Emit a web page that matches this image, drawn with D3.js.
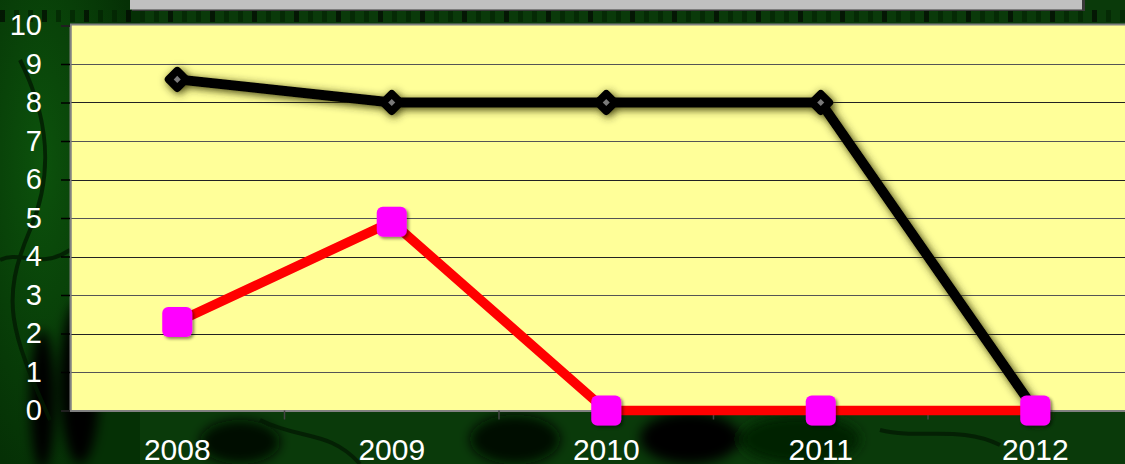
<!DOCTYPE html>
<html><head><meta charset="utf-8">
<script src="https://cdn.jsdelivr.net/npm/d3@7"></script>
<style>html,body{margin:0;padding:0;overflow:hidden;background:#063006}</style>
</head><body>
<svg id="c" width="1125" height="464"></svg>
<script>
const categories = ["2008","2009","2010","2011","2012"];
const seriesBlack = [8.6, 8, 8, 8, 0];
const seriesRed = [2.3, 4.9, 0, 0, 0];
const yTicks = [0,1,2,3,4,5,6,7,8,9,10];

const svg = d3.select("#c");
const W = 1125, H = 464;
const plot = {left:70, top:25.5, right:1142.5, bottom:410.5};

const defs = svg.append("defs");
const glow = defs.append("filter").attr("id","glow").attr("x","-20%").attr("y","-20%").attr("width","140%").attr("height","140%");
glow.append("feDropShadow").attr("dx",2).attr("dy",2).attr("stdDeviation",4).attr("flood-color","#2e2e00").attr("flood-opacity",0.95);
const sh = defs.append("filter").attr("id","sh").attr("x","-30%").attr("y","-30%").attr("width","160%").attr("height","160%");
sh.append("feDropShadow").attr("dx",2).attr("dy",2).attr("stdDeviation",1.5).attr("flood-color","#000").attr("flood-opacity",0.45);
const bgGrad = defs.append("radialGradient").attr("id","bgl").attr("cx","0.3").attr("cy","0.35").attr("r","0.7");
bgGrad.append("stop").attr("offset","0").attr("stop-color","#0c520c");
bgGrad.append("stop").attr("offset","1").attr("stop-color","#053005");
const blur = defs.append("filter").attr("id","blur").attr("x","-20%").attr("y","-20%").attr("width","140%").attr("height","140%");
blur.append("feGaussianBlur").attr("stdDeviation",6);

// background
svg.append("rect").attr("width",W).attr("height",H).attr("fill","#0a3a0a");
svg.append("rect").attr("x",0).attr("y",0).attr("width",140).attr("height",H).attr("fill","url(#bgl)");
const bg = svg.append("g").attr("filter","url(#blur)");
[[60,300,40,164,"#000"],[200,420,80,44,"#010"],[470,415,90,49,"#010"],
 [640,412,100,52,"#000"],[740,415,120,49,"#020"],[30,330,25,140,"#000"]].forEach(d=>{
  bg.append("ellipse").attr("cx",d[0]+d[2]/2).attr("cy",d[1]+d[3]/2).attr("rx",d[2]/2).attr("ry",d[3]/2).attr("fill",d[4]);
});
// stripes in top band
const stripes = d3.range(0, W, 14);
svg.append("g").selectAll("rect").data(stripes).enter().append("rect")
  .attr("x",d=>d).attr("y",10).attr("width",5).attr("height",12)
  .attr("fill",(d,i)=> i%3===0 ? "#000" : "#021f02").attr("opacity",0.6);
// curvy dark lines on left
const cg = svg.append("g").attr("stroke","#021a02").attr("stroke-width",4).attr("fill","none").attr("opacity",0.8);
cg.append("path").attr("d","M20,60 C40,100 60,160 30,230 S10,330 50,420");
cg.append("path").attr("d","M0,260 C20,250 40,270 70,250");
cg.append("path").attr("d","M260,420 C300,440 330,430 360,464");
cg.append("path").attr("d","M880,430 C920,440 960,425 1000,445");

// title box (cut off)
svg.append("rect").attr("x",132).attr("y",-10).attr("width",953).attr("height",21).attr("fill","#3a3a3a");
svg.append("rect").attr("x",130).attr("y",-10).attr("width",952).attr("height",19.5).attr("fill","#c0c0c0");

// scales
const x = d3.scaleBand().domain(categories).range([plot.left, plot.right]);
const y = d3.scaleLinear().domain([0,10]).range([plot.bottom, plot.top]);
const cx = d => x(d) + x.bandwidth()/2;

// plot area
svg.append("rect").attr("x",plot.left).attr("y",plot.top-2).attr("width",plot.right-plot.left).attr("height",plot.bottom-plot.top+2).attr("fill","#808080");
svg.append("rect").attr("x",plot.left+1.5).attr("y",plot.top).attr("width",plot.right-plot.left).attr("height",plot.bottom-plot.top).attr("fill","#ffff99");

// gridlines
svg.append("g").selectAll("line").data(yTicks.filter(t=>t>0 && t<10)).enter().append("line")
  .attr("x1",plot.left).attr("x2",plot.right).attr("y1",d=>Math.round(y(d))+0.5).attr("y2",d=>Math.round(y(d))+0.5)
  .attr("stroke",(d,i)=> i%2 ? "#222" : "#555").attr("stroke-width",1.2);

// y axis
const yAxis = d3.axisLeft(y).tickValues(yTicks).tickSize(9).tickPadding(18).tickFormat(d3.format("d"));
const ya = svg.append("g").attr("transform",`translate(${plot.left},0)`).call(yAxis);
ya.select(".domain").attr("stroke","#808080").attr("stroke-width",2);
ya.selectAll(".tick line").attr("stroke","#000").attr("stroke-width",1.5);
ya.selectAll(".tick text").attr("fill","#fff").attr("font-family","Liberation Sans, Arial, sans-serif").attr("font-size",29).attr("dx",-1);

// x axis
const xAxis = d3.axisBottom(x).tickSize(0).tickPadding(32);
const xa = svg.append("g").attr("transform",`translate(0,${plot.bottom})`).call(xAxis);
xa.select(".domain").attr("stroke","#808080").attr("stroke-width",2);
xa.selectAll(".tick text").attr("fill","#fff").attr("font-family","Liberation Sans, Arial, sans-serif").attr("font-size",30).attr("dy","0.71em").attr("y",28);
// category separator ticks
svg.append("g").selectAll("line").data(categories.slice(1)).enter().append("line")
  .attr("x1",d=>x(d)).attr("x2",d=>x(d)).attr("y1",plot.bottom).attr("y2",plot.bottom+9)
  .attr("stroke","#444").attr("stroke-width",1.5);

// black series
const line = d3.line().x((d,i)=>cx(categories[i])).y(d=>y(d));
const gB = svg.append("g").attr("filter","url(#glow)");
gB.append("path").datum(seriesBlack).attr("d",line).attr("fill","none").attr("stroke","#000").attr("stroke-width",10).attr("stroke-linejoin","round");
gB.selectAll("rect").data(seriesBlack).enter().append("rect")
  .attr("x",-10).attr("y",-10).attr("width",20).attr("height",20).attr("rx",4)
  .attr("transform",(d,i)=>`translate(${cx(categories[i])},${y(d)}) rotate(45)`).attr("fill","#000");
svg.append("g").selectAll("rect").data(seriesBlack).enter().append("rect")
  .attr("x",-2.5).attr("y",-2.5).attr("width",5).attr("height",5)
  .attr("transform",(d,i)=>`translate(${cx(categories[i])},${y(d)}) rotate(45)`).attr("fill","#7a7a7a");

// red series
svg.append("path").datum(seriesRed).attr("d",line).attr("fill","none").attr("stroke","#ff0000").attr("stroke-width",9.5).attr("stroke-linejoin","round");
svg.append("g").attr("filter","url(#sh)").selectAll("rect").data(seriesRed).enter().append("rect")
  .attr("width",30).attr("height",30).attr("rx",6)
  .attr("transform",(d,i)=>`translate(${cx(categories[i])-15},${y(d)-15})`).attr("fill","#ff00ff");
</script>
</body></html>
